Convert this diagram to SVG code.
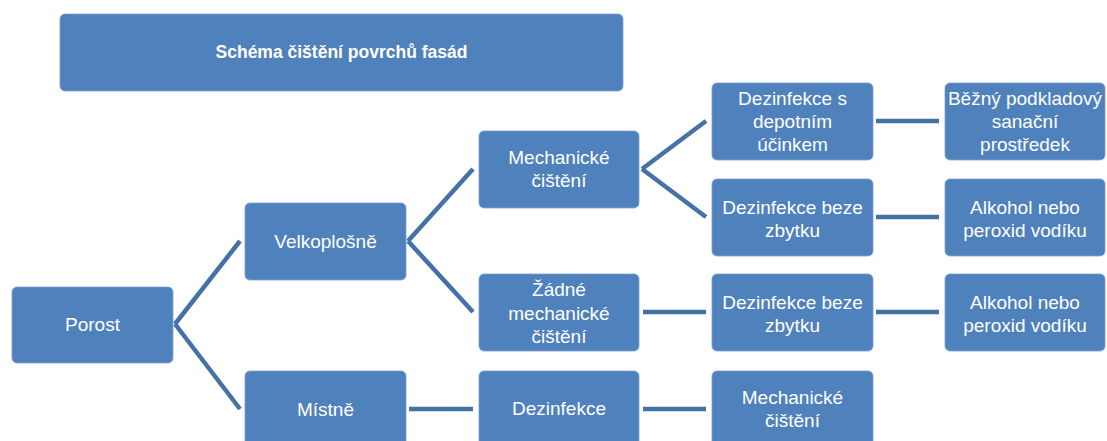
<svg xmlns="http://www.w3.org/2000/svg" width="1107" height="441" viewBox="0 0 1107 441">
<style>
.box{fill:#4F81BD;stroke:#7A9FD0;stroke-width:0.8}
.t{font-family:"Liberation Sans",Arial,sans-serif;font-size:19px;fill:#fff;text-anchor:middle}
.title{font-family:"Liberation Sans",Arial,sans-serif;font-size:17.5px;font-weight:bold;fill:#fff;text-anchor:middle}
.c line{stroke:#4471A6;stroke-width:4.5;stroke-linecap:butt}
</style>
<rect width="1107" height="441" fill="#fff"/>
<g id="connectors" class="c">
<line x1="175" y1="324" x2="240" y2="241"/>
<line x1="175" y1="324" x2="240" y2="409"/>
<line x1="408" y1="241" x2="473" y2="169"/>
<line x1="408" y1="241" x2="473" y2="312"/>
<line x1="409" y1="409" x2="473" y2="409"/>
<line x1="642" y1="169" x2="706" y2="121"/>
<line x1="642" y1="169" x2="706" y2="217"/>
<line x1="643" y1="312" x2="706" y2="312"/>
<line x1="643" y1="409" x2="706" y2="409"/>
<line x1="876" y1="121" x2="939" y2="121"/>
<line x1="876" y1="217" x2="939" y2="217"/>
<line x1="876" y1="312" x2="939" y2="312"/>
</g>
<g id="title">
<rect class="box" x="60" y="14" width="563" height="77" rx="5"/>
<text class="title" x="341.5" y="58">Schéma čištění povrchů fasád</text>
</g>
<g id="porost">
<rect class="box" x="12" y="287" width="161" height="76" rx="5"/>
<text class="t" x="92.5" y="331">Porost</text>
</g>
<g id="velkoplosne">
<rect class="box" x="245" y="203" width="161" height="77" rx="5"/>
<text class="t" x="325.5" y="248">Velkoplošně</text>
</g>
<g id="mistne">
<rect class="box" x="245" y="371" width="161" height="77" rx="5"/>
<text class="t" x="325.5" y="416">Místně</text>
</g>
<g id="mech1">
<rect class="box" x="479" y="131" width="160" height="77" rx="5"/>
<text class="t" x="559" y="163.5">Mechanické</text>
<text class="t" x="559" y="187">čištění</text>
</g>
<g id="zadne">
<rect class="box" x="479" y="274" width="160" height="77" rx="5"/>
<text class="t" x="559" y="296">Žádné</text>
<text class="t" x="559" y="319.5">mechanické</text>
<text class="t" x="559" y="343">čištění</text>
</g>
<g id="dezinfekce">
<rect class="box" x="479" y="371" width="160" height="77" rx="5"/>
<text class="t" x="559" y="415">Dezinfekce</text>
</g>
<g id="dez-depot">
<rect class="box" x="712" y="83" width="161" height="77" rx="5"/>
<text class="t" x="792.5" y="104.5">Dezinfekce s</text>
<text class="t" x="792.5" y="128">depotním</text>
<text class="t" x="792.5" y="151">účinkem</text>
</g>
<g id="dez-beze1">
<rect class="box" x="712" y="179" width="161" height="77" rx="5"/>
<text class="t" x="792.5" y="213.5">Dezinfekce beze</text>
<text class="t" x="792.5" y="236.5">zbytku</text>
</g>
<g id="dez-beze2">
<rect class="box" x="712" y="274" width="161" height="77" rx="5"/>
<text class="t" x="792.5" y="308.5">Dezinfekce beze</text>
<text class="t" x="792.5" y="331.5">zbytku</text>
</g>
<g id="mech2">
<rect class="box" x="712" y="371" width="161" height="77" rx="5"/>
<text class="t" x="792.5" y="403.5">Mechanické</text>
<text class="t" x="792.5" y="427">čištění</text>
</g>
<g id="bezny">
<rect class="box" x="945" y="83" width="160" height="77" rx="5"/>
<text class="t" x="1025" y="104.5">Běžný podkladový</text>
<text class="t" x="1025" y="128">sanační</text>
<text class="t" x="1025" y="151">prostředek</text>
</g>
<g id="alkohol1">
<rect class="box" x="945" y="179" width="160" height="77" rx="5"/>
<text class="t" x="1025" y="213.5">Alkohol nebo</text>
<text class="t" x="1025" y="236.5">peroxid vodíku</text>
</g>
<g id="alkohol2">
<rect class="box" x="945" y="274" width="160" height="77" rx="5"/>
<text class="t" x="1025" y="308.5">Alkohol nebo</text>
<text class="t" x="1025" y="331.5">peroxid vodíku</text>
</g>
</svg>
